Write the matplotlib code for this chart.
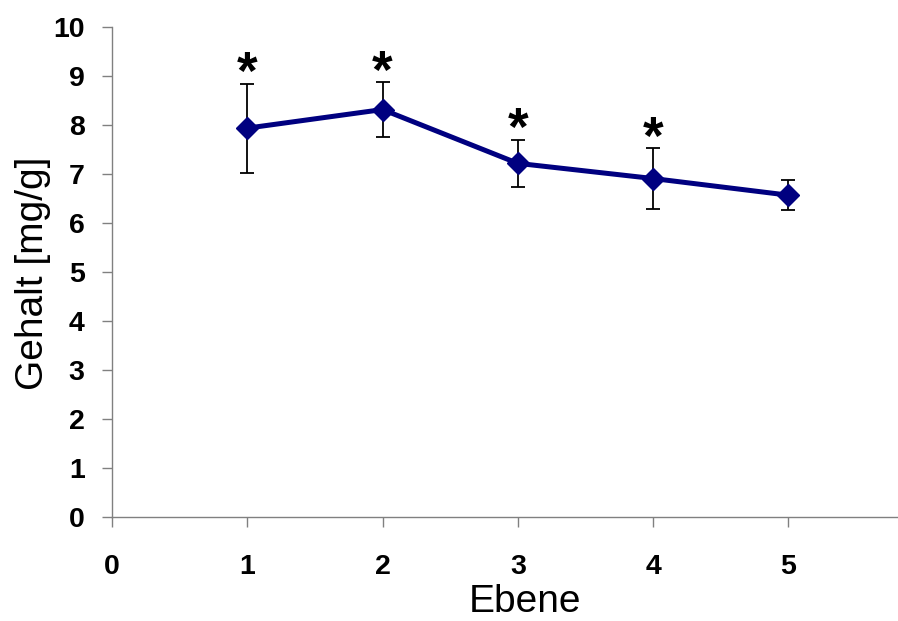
import matplotlib
matplotlib.use("Agg")
import matplotlib.pyplot as plt

ebene = [1, 2, 3, 4, 5]
gehalt = [7.94, 8.32, 7.22, 6.91, 6.57]
fehler = [0.91, 0.56, 0.48, 0.62, 0.31]
signifikant = ["*", "*", "*", "*", ""]
x_ticks = [0, 1, 2, 3, 4, 5]
y_ticks = list(range(0, 11))

plt.rcParams['font.family'] = ['Liberation Sans', 'DejaVu Sans']

fig = plt.figure(figsize=(8.98, 6.21), dpi=100)
ax = fig.add_axes([0.1247, 0.168, 0.8753, 0.788])

ax.errorbar(ebene, gehalt, yerr=fehler, fmt='none', ecolor='black',
            elinewidth=1.3, capsize=4.8, capthick=1.3, zorder=2)
ax.plot(ebene, gehalt, color='#000080', lw=3.6, marker='D', markersize=11,
        markerfacecolor='#000080', markeredgecolor='#000080', zorder=3)

for x, y, e, s in zip(ebene, gehalt, fehler, signifikant):
    if s:
        ax.annotate(s, (x, y + e), xytext=(0, -4), textcoords='offset points',
                    ha='center', va='baseline', fontsize=38, fontweight='bold')

ax.set_xlim(0, 5.81)
ax.set_ylim(0, 10)
ax.set_xticks(x_ticks)
ax.set_yticks(y_ticks)
for sp in ['top', 'right']:
    ax.spines[sp].set_visible(False)
for sp in ['left', 'bottom']:
    ax.spines[sp].set_color('#808080')
    ax.spines[sp].set_linewidth(1.0)
ax.tick_params(axis='x', direction='out', length=7.2, width=1, color='#808080',
               pad=19.5, labelsize=20.5)
ax.tick_params(axis='y', direction='out', length=7.2, width=1, color='#808080',
               pad=12.5, labelsize=20.5)
for lab in ax.get_xticklabels() + ax.get_yticklabels():
    lab.set_fontweight('bold')

ax.set_xlabel('Ebene', fontsize=28)
ax.set_ylabel('Gehalt [mg/g]', fontsize=28)
ax.xaxis.set_label_coords(0.5254, -0.1385)
ax.yaxis.set_label_coords(-0.077, 0.498)

fig.savefig('out.png', dpi=100)
